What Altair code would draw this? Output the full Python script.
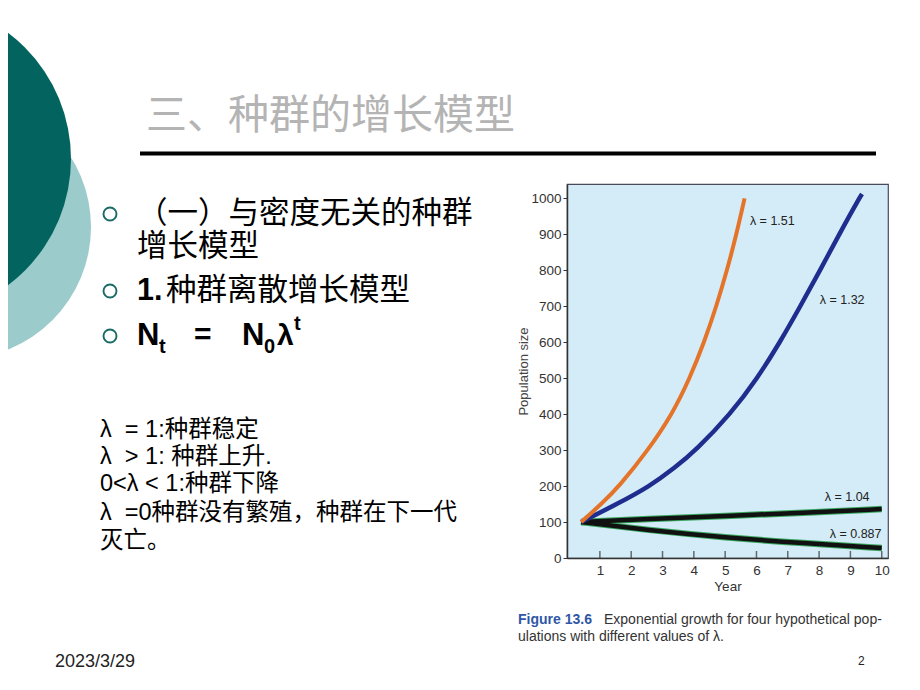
import altair as alt
import pandas as pd

# ---------------- data ----------------
yr_151 = [0.4, 1.05, 1.62, 2.54, 3.31, 3.87, 4.33, 4.72, 5.06, 5.36, 5.62]
pop_151 = [100, 150, 200, 300, 400, 500, 600, 700, 800, 900, 1000]

yr_132 = [0.4, 1.55, 2.6, 3.38, 4.07, 5.17, 6.03, 6.75, 7.4, 8.03, 8.64, 9.28, 9.37]
pop_132 = [100, 150, 200, 250, 300, 400, 500, 600, 700, 800, 900, 1000, 1012]

yr_104 = [0.4, 2.5, 5.0, 7.5, 10.0]
pop_104 = [100, 108, 117, 126, 136]

yr_0887 = [0.4, 2.5, 5.0, 7.5, 10.0]
pop_0887 = [100, 78, 57, 41, 28]

curve_labels = ["λ = 1.51", "λ = 1.32", "λ = 1.04", "λ = 0.887"]
label_year = [5.79, 8.02, 8.18, 8.34]
label_pop = [936, 717, 169, 67]

x_ticks = [1, 2, 3, 4, 5, 6, 7, 8, 9, 10]
y_ticks = [0, 100, 200, 300, 400, 500, 600, 700, 800, 900, 1000]

title_text = "三、种群的增长模型"
bullet1a = "（一）与密度无关的种群"
bullet1b = "增长模型"
bullet2 = "种群离散增长模型"
notes = ["λ\u00a0\u00a0=\u00a01:种群稳定",
         "λ\u00a0\u00a0>\u00a01:\u00a0种群上升.",
         "0<λ\u00a0<\u00a01:种群下降",
         "λ\u00a0\u00a0=0种群没有繁殖，种群在下一代",
         "灭亡。"]
caption_bold = "Figure 13.6"
caption_1 = "Exponential growth for four hypothetical pop-"
caption_2 = "ulations with different values of λ."
date_text = "2023/3/29"

# ---------------- layout ----------------
OX, OY = 567, 184          # page position of plot origin
W, H = 321, 374
LAT = "Liberation Sans"
CJK = "Liberation Sans, Noto Sans CJK SC"

x_enc = alt.X("year:Q",
              scale=alt.Scale(domain=[-0.05, 10.2], nice=False, zero=False),
              axis=alt.Axis(values=x_ticks, ticks=False, labelPadding=5,
                            labelFont=LAT, labelFontSize=13.5, labelColor="#333",
                            domainColor="#333", domainWidth=1.5, grid=False,
                            title="Year", titleFont=LAT, titleFontSize=13.5,
                            titleFontWeight="normal", titleColor="#333",
                            titlePadding=3))
y_enc = alt.Y("pop:Q",
              scale=alt.Scale(domain=[0, 1040], nice=False),
              axis=alt.Axis(values=y_ticks, format="d", tickSize=4, tickColor="#333",
                            labelPadding=2, labelFont=LAT, labelFontSize=13.5,
                            labelColor="#333", domainColor="#333", domainWidth=1.5,
                            grid=False, title="Population size", titleFont=LAT,
                            titleFontSize=13, titleFontWeight="normal",
                            titleColor="#444", titlePadding=0))


def curve(xs, ys, color, width):
    df = pd.DataFrame({"year": xs, "pop": ys})
    return alt.Chart(df).mark_line(color=color, strokeWidth=width,
                                   interpolate="basis").encode(x=x_enc, y=y_enc)


one = pd.DataFrame({"k": [0]})


def txt(text, x, y, size, color="#000", weight="normal", font=CJK,
        align="left", baseline="middle"):
    return alt.Chart(one).mark_text(text=text, align=align, baseline=baseline,
                                    fontSize=size, font=font, fontWeight=weight,
                                    color=color).encode(
        x=alt.value(x - OX), y=alt.value(y - OY))


def dot(x, y, diameter, color, filled=True, sw=0):
    # vega circle symbol: radius = sqrt(size) / 2
    return alt.Chart(one).mark_point(shape="circle", filled=filled,
                                     size=diameter ** 2, opacity=1,
                                     fill=color if filled else None,
                                     stroke=None if filled else color,
                                     strokeWidth=sw).encode(
        x=alt.value(x - OX), y=alt.value(y - OY))


layers = []

# chart content
layers.append(curve(yr_104, pop_104, "#3aa860", 6.5))
layers.append(curve(yr_0887, pop_0887, "#3aa860", 6.5))
layers.append(curve(yr_104, pop_104, "#111111", 4.5))
layers.append(curve(yr_0887, pop_0887, "#111111", 4.5))
layers.append(curve(yr_132, pop_132, "#1f2e8e", 4.5))
layers.append(curve(yr_151, pop_151, "#e5742b", 4))

tick_df = pd.DataFrame({"year": x_ticks})
layers.append(alt.Chart(tick_df).mark_tick(orient="vertical", size=7, thickness=1.5,
                                           color="#333").encode(
    x=x_enc, y=alt.value(H - 3.5)))

lab_df = pd.DataFrame({"year": label_year, "pop": label_pop, "label": curve_labels})
layers.append(alt.Chart(lab_df).mark_text(align="left", baseline="middle", font=LAT,
                                          fontSize=12.5, color="#222").encode(
    x=x_enc, y=y_enc, text="label:N"))

# slide decorations
light = "#9ccbcb"
dark = "#03645f"
layers.append(dot(-41, 227, 264, light))
layers.append(dot(-87, 159, 316, dark))

layers.append(txt(title_text, 146, 117, 41, color="#b4b4b4", font="Noto Sans CJK SC"))
layers.append(alt.Chart(one).mark_rule(color="#000", strokeWidth=4).encode(
    x=alt.value(140 - OX), x2=alt.value(876 - OX), y=alt.value(153.5 - OY)))

for by in (214, 291, 336):
    layers.append(dot(110, by, 13, "#1a6a66", filled=False, sw=1.9))

layers.append(txt(bullet1a, 137, 214, 30.5))
layers.append(txt(bullet1b, 137, 247, 30.5))
layers.append(txt("1.", 137, 291, 30.5, weight="bold", font=LAT))
layers.append(txt(bullet2, 166, 291, 30.5))

# N_t = N_0 λ^t
layers.append(txt("N", 137, 336, 31, weight="bold", font=LAT))
layers.append(txt("t", 159, 347, 20, weight="bold", font=LAT))
layers.append(txt("=", 194, 335, 30, weight="bold", font=LAT))
layers.append(txt("N", 242, 336, 31, weight="bold", font=LAT))
layers.append(txt("0", 264, 347, 20, weight="bold", font=LAT))
layers.append(txt("λ", 277, 336, 30, weight="bold", font=LAT))
layers.append(txt("t", 294, 324, 20, weight="bold", font=LAT))

for i, line in enumerate(notes):
    layers.append(txt(line, 100, [430, 457, 484, 513, 541][i], 23.5))

layers.append(txt(caption_bold, 518, 620, 14, color="#2f57a6", weight="bold", font=LAT))
layers.append(txt(caption_1, 604, 620, 14, color="#333", font=LAT))
layers.append(txt(caption_2, 518, 637, 14, color="#333", font=LAT))

layers.append(txt(date_text, 55, 662, 18, color="#222", font=LAT))
layers.append(txt("2", 858, 661, 12, color="#222", font=LAT))

chart = alt.layer(*layers).properties(
    width=W, height=H,
    autosize=alt.AutoSizeParams(type="none"),
    padding={"left": OX - 8, "top": OY - 8, "right": 904 - (OX - 8) - W,
             "bottom": 674 - (OY - 8) - H},
    background="white",
).configure_view(fill="#d4ecf7", stroke="#4a4a5a", strokeWidth=1.2)

chart.save("out.html", embed_options={"renderer": "svg", "actions": False})
